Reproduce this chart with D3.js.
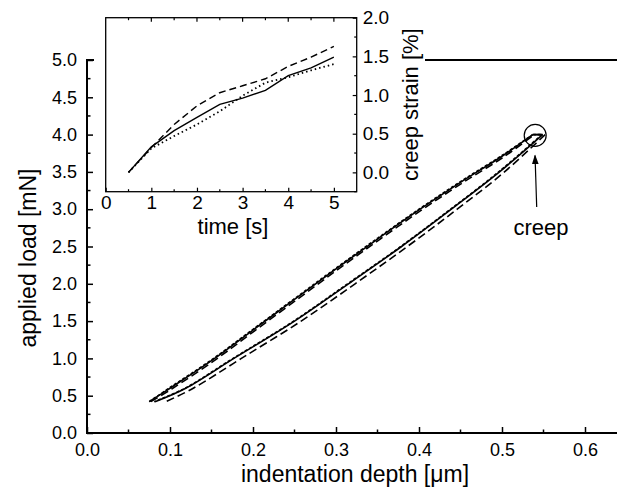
<!DOCTYPE html>
<html>
<head>
<meta charset="utf-8">
<script src="https://cdn.jsdelivr.net/npm/d3@7"></script>
<style>
  body { margin: 0; background: #fff; }
  svg text { font-family: "Liberation Sans", Arial, Helvetica, sans-serif; fill: #000; }
</style>
</head>
<body>
<div id="chart"></div>
<script>
// main plot: load-displacement curves of three indents
const loadDepth  = [0.075, 0.10, 0.15, 0.20, 0.25, 0.30, 0.35, 0.40, 0.45, 0.50, 0.537];
const loadSolid  = [0.42, 0.60, 0.97, 1.38, 1.79, 2.20, 2.60, 2.99, 3.36, 3.71, 4.0];
const loadDashed = [0.42, 0.59, 0.96, 1.37, 1.78, 2.19, 2.59, 2.98, 3.35, 3.70, 4.0];
const loadDotted = [0.42, 0.61, 0.98, 1.39, 1.80, 2.21, 2.61, 3.00, 3.37, 3.72, 4.0];

const unloadForce  = [4.0, 3.5, 3.0, 2.5, 2.0, 1.5, 1.0, 0.6, 0.42];
const unloadSolid  = [0.549, 0.497, 0.439, 0.379, 0.315, 0.250, 0.177, 0.119, 0.082];
const unloadDashed = [0.552, 0.503, 0.446, 0.386, 0.323, 0.258, 0.186, 0.128, 0.095];
const unloadDotted = [0.548, 0.496, 0.438, 0.378, 0.314, 0.249, 0.176, 0.118, 0.081];

const xTicks = [0.0, 0.1, 0.2, 0.3, 0.4, 0.5, 0.6];
const yTicks = [0.0, 0.5, 1.0, 1.5, 2.0, 2.5, 3.0, 3.5, 4.0, 4.5, 5.0];

// inset: creep strain vs time
const time = [0.5, 1.0, 1.5, 2.0, 2.5, 3.0, 3.5, 4.0, 4.5, 5.0];
const strainSolid  = [0.0, 0.33, 0.54, 0.71, 0.88, 0.96, 1.06, 1.25, 1.35, 1.49];
const strainDashed = [0.0, 0.32, 0.62, 0.86, 1.03, 1.12, 1.21, 1.37, 1.49, 1.63];
const strainDotted = [0.0, 0.31, 0.47, 0.62, 0.79, 0.99, 1.16, 1.23, 1.32, 1.40];
const insetXTicks = [0, 1, 2, 3, 4, 5];
const insetYTicks = [0.0, 0.5, 1.0, 1.5, 2.0];

const W = 617, H = 489;
const svg = d3.select("#chart").append("svg")
    .attr("width", W).attr("height", H);

const x = d3.scaleLinear().domain([0, 0.65]).range([87, 626.5]);
const y = d3.scaleLinear().domain([0, 5]).range([433, 60]);

const styles = {
  solid:  {dash: null,   width: 1.6},
  dashed: {dash: "8,4",  width: 1.6},
  dotted: {dash: "3,2",  width: 1.6}
};

const mainLine = d3.line().x(d => x(d[0])).y(d => y(d[1])).curve(d3.curveCatmullRom);

function curvePts(ld, lf, ud, uf) {
  const up = ld.map((d, i) => [d, lf[i]]);
  const down = ud.map((d, i) => [d, uf[i]]);
  return {up, down};
}

const series = [
  {key: "dotted", c: curvePts(loadDepth, loadDotted, unloadDotted, unloadForce)},
  {key: "dashed", c: curvePts(loadDepth.map(d => d + 0.002), loadDashed, unloadDashed, unloadForce)},
  {key: "solid",  c: curvePts(loadDepth, loadSolid, unloadSolid, unloadForce)}
];

// main frame top (partly hidden by the inset)
svg.append("line").attr("x1", x(0)).attr("x2", W).attr("y1", y(5)).attr("y2", y(5))
  .attr("stroke", "#000").attr("stroke-width", 2);

// inset background
svg.append("rect").attr("x", 94).attr("y", 0).attr("width", 331).attr("height", 196).attr("fill", "#fff");

const curves = svg.append("g");
series.forEach(s => {
  const st = styles[s.key];
  const last = s.c.up[s.c.up.length - 1];
  [s.c.up, [last, s.c.down[0]], s.c.down].forEach(pts => {
    curves.append("path")
      .attr("d", mainLine(pts))
      .attr("fill", "none")
      .attr("stroke", "#000")
      .attr("stroke-width", st.width)
      .attr("stroke-dasharray", st.dash);
  });
});

const xAxis = svg.append("g").attr("transform", `translate(0,${y(0)})`)
  .call(d3.axisBottom(x).tickValues(xTicks).tickSize(-6).tickPadding(10).tickFormat(d3.format(".1f")));
xAxis.append("g").selectAll("line")
  .data(d3.range(0.05, 0.65, 0.1)).join("line")
  .attr("x1", d => x(d)).attr("x2", d => x(d)).attr("y1", 0).attr("y2", -3.5)
  .attr("stroke", "#000").attr("stroke-width", 1.5);

const yAxis = svg.append("g").attr("transform", `translate(${x(0)},0)`)
  .call(d3.axisLeft(y).tickValues(yTicks).tickSize(-6).tickPadding(10).tickFormat(d3.format(".1f")));
yAxis.append("g").selectAll("line")
  .data(d3.range(0.25, 5, 0.5)).join("line")
  .attr("x1", 0).attr("x2", 3.5).attr("y1", d => y(d)).attr("y2", d => y(d))
  .attr("stroke", "#000").attr("stroke-width", 1.5);

[xAxis, yAxis].forEach(a => {
  a.select(".domain").remove();
  a.selectAll(".tick line").attr("stroke-width", 1.5);
  a.selectAll(".tick text").style("font-size", "18px");
});
svg.append("line").attr("x1", x(0)).attr("x2", W).attr("y1", y(0)).attr("y2", y(0))
  .attr("stroke", "#000").attr("stroke-width", 2);
svg.append("line").attr("x1", x(0)).attr("x2", x(0)).attr("y1", y(0) + 1).attr("y2", y(5) - 1)
  .attr("stroke", "#000").attr("stroke-width", 2);

svg.append("text")
  .attr("x", 355).attr("y", 482)
  .attr("text-anchor", "middle").style("font-size", "23px")
  .text("indentation depth [\u03bcm]");
svg.append("text")
  .attr("transform", "translate(36,258) rotate(-90)")
  .attr("text-anchor", "middle").style("font-size", "23px")
  .text("applied load [mN]");

// creep annotation
svg.append("circle")
  .attr("cx", x(0.54)).attr("cy", y(3.99)).attr("r", 11)
  .attr("fill", "none").attr("stroke", "#000").attr("stroke-width", 1.2);
svg.append("defs").append("marker")
  .attr("id", "arr").attr("viewBox", "0 0 10 10").attr("refX", 9).attr("refY", 5)
  .attr("markerWidth", 8).attr("markerHeight", 8).attr("orient", "auto")
  .append("path").attr("d", "M0,1.5L10,5L0,8.5Z").attr("fill", "#000");
svg.append("line")
  .attr("x1", x(0.5418)).attr("y1", y(3.03))
  .attr("x2", x(0.5398)).attr("y2", y(3.72))
  .attr("stroke", "#000").attr("stroke-width", 1.2)
  .attr("marker-end", "url(#arr)");
svg.append("text")
  .attr("x", 541).attr("y", 235)
  .attr("text-anchor", "middle").style("font-size", "22px")
  .text("creep");

// inset
const inset = svg.append("g");

const ix = d3.scaleLinear().domain([0, 5.5]).range([105.7, 356.7]);
const iy = d3.scaleLinear().domain([-0.25, 2.0]).range([191.7, 17.7]);

inset.append("rect")
  .attr("x", ix(0)).attr("y", iy(2)).attr("width", ix(5.5) - ix(0)).attr("height", iy(-0.25) - iy(2))
  .attr("fill", "none").attr("stroke", "#000").attr("stroke-width", 1.3);

const ixAxis = inset.append("g").attr("transform", `translate(0,${iy(-0.25)})`)
  .call(d3.axisBottom(ix).tickValues(insetXTicks).tickSize(-4).tickPadding(4).tickFormat(d3.format("d")));
const iyAxis = inset.append("g").attr("transform", `translate(${ix(5.5)},0)`)
  .call(d3.axisRight(iy).tickValues(insetYTicks).tickSize(-4).tickPadding(6).tickFormat(d3.format(".1f")));
[ixAxis, iyAxis].forEach(a => {
  a.select(".domain").remove();
  a.selectAll(".tick line").attr("stroke-width", 1.2);
  a.selectAll(".tick text").style("font-size", "19px");
});
// minor / top ticks
inset.append("g").selectAll("line")
  .data(d3.range(0.5, 5.5, 1)).join("line")
  .attr("x1", d => ix(d)).attr("x2", d => ix(d)).attr("y1", iy(-0.25)).attr("y2", iy(-0.25) - 2.5)
  .attr("stroke", "#000").attr("stroke-width", 1.2);
inset.append("g").selectAll("line")
  .data(d3.range(0.5, 5.5, 0.5)).join("line")
  .attr("x1", d => ix(d)).attr("x2", d => ix(d)).attr("y1", iy(2)).attr("y2", d => iy(2) + (d % 1 === 0 ? 4 : 2.5))
  .attr("stroke", "#000").attr("stroke-width", 1.2);
inset.append("g").selectAll("line")
  .data([-0.25, 0.25, 0.75, 1.25, 1.75]).join("line")
  .attr("x1", ix(5.5)).attr("x2", ix(5.5) - 2.5).attr("y1", d => iy(d)).attr("y2", d => iy(d))
  .attr("stroke", "#000").attr("stroke-width", 1.2);

const insetLine = d3.line().x(d => ix(d[0])).y(d => iy(d[1]));
[
  {vals: strainDotted, dash: "1.5,3", w: 1.8},
  {vals: strainDashed, dash: "7,4", w: 1.4},
  {vals: strainSolid, dash: null, w: 1.4}
].forEach(s => {
  inset.append("path")
    .attr("d", insetLine(time.map((t, i) => [t, s.vals[i]])))
    .attr("fill", "none").attr("stroke", "#000")
    .attr("stroke-width", s.w).attr("stroke-dasharray", s.dash);
});

inset.append("text")
  .attr("x", 233).attr("y", 234)
  .attr("text-anchor", "middle").style("font-size", "22px")
  .text("time [s]");
inset.append("text")
  .attr("transform", "translate(418,104.7) rotate(-90)")
  .attr("text-anchor", "middle").style("font-size", "22px")
  .text("creep strain [%]");
</script>
</body>
</html>
